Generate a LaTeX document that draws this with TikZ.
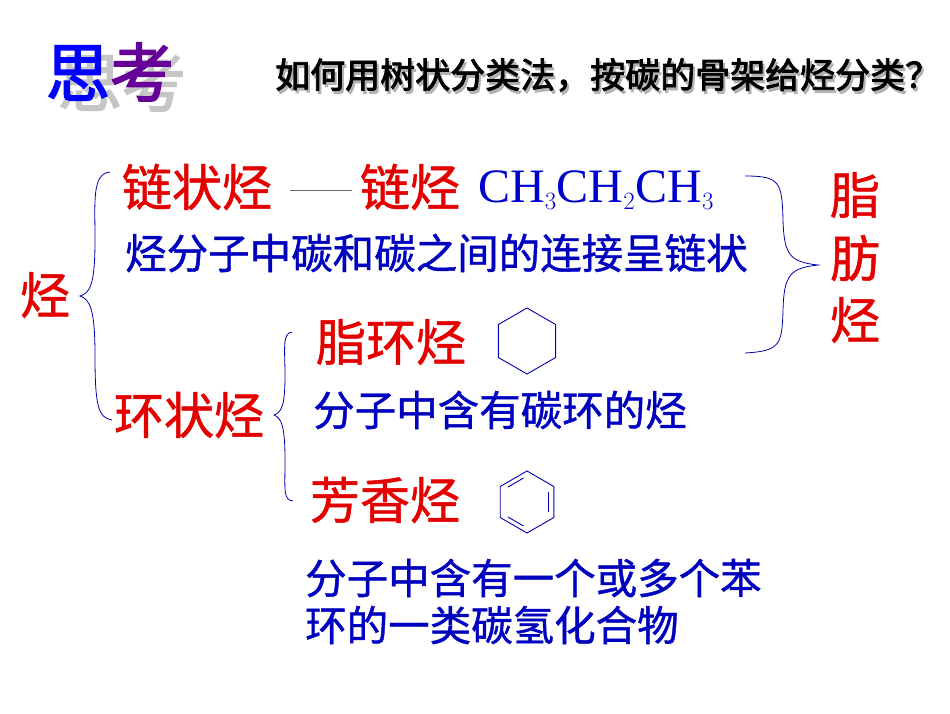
\documentclass[tikz,border=0pt]{standalone}
\usepackage{fontspec}
\usetikzlibrary{calc}
\setmainfont{Liberation Serif}
\newfontfamily\cjk{Noto Sans CJK SC}[FakeBold=1]
\newfontfamily\cjkb{Noto Sans CJK SC}[FakeBold=2.5]
\begin{document}
\begin{tikzpicture}[x=1pt,y=-1pt,
 red/.style={text=red!90!black,font=\cjk\fontsize{50}{54}\selectfont,inner sep=0},
 blu/.style={text=blue!75!black,font=\cjk\fontsize{41.5}{46}\selectfont,inner sep=0,anchor=west},
 br/.style={draw=blue!70!black,line width=0.8pt},
 hex/.style={draw=blue!70!black,line width=0.9pt}]
\useasboundingbox (0,0) rectangle (950,713);
\fill[white] (0,0) rectangle (950,713);
% title
\node[text=gray!45,font=\cjkb\fontsize{64}{68}\selectfont,inner sep=0] (sks) at (122,82) {思考};
\node[font=\cjkb\fontsize{64}{68}\selectfont,inner sep=0] (sk) at (110,72) {\textcolor{blue}{思}\textcolor{violet!80!blue}{考}};
\node[text=gray!60,font=\cjkb\fontsize{35}{38}\selectfont,inner sep=0,anchor=west] (tts) at (277,78) {如何用树状分类法，按碳的骨架给烃分类？};
\node[text=black,font=\cjkb\fontsize{35}{38}\selectfont,inner sep=0,anchor=west] (tt) at (275,75) {如何用树状分类法，按碳的骨架给烃分类？};
% nodes
\node[red] (lz) at (197,187) {链状烃};
\node[red] (lt) at (410,187) {链烃};
\node[inner sep=0,anchor=west,text=blue!80!black,font=\fontsize{48}{50}\selectfont] (ch) at (478,190) {CH$_3$CH$_2$CH$_3$};
\node[blu] (d1) at (125,253) {烃分子中碳和碳之间的连接呈链状};
\node[red] (t) at (45,295) {烃};
\node[red] (z1) at (855,195) {脂};
\node[red] (z2) at (855,258) {肪};
\node[red] (z3) at (855,320) {烃};
\node[red] (zh) at (391,342) {脂环烃};
\node[red] (hz) at (189,415) {环状烃};
\node[blu] (d2) at (313,410) {分子中含有碳环的烃};
\node[red] (fx) at (385,500) {芳香烃};
\node[blu] (d3) at (305,578) {分子中含有一个或多个苯};
\node[blu] (d4) at (305,625) {环的一类碳氢化合物};
% connector line
\coordinate (a) at (290,190);
\coordinate (b) at (352,190);
\draw[draw=black!60,line width=0.6pt] (a) -- (b);
% braces
\draw[br] (110,172) .. controls (92,174) and (95,200) .. (95,240) .. controls (95,285) and (90,293) .. (80,296)
 .. controls (90,299) and (95,310) .. (95,355) .. controls (95,405) and (98,418) .. (112,420);
\draw[br] (745,176) .. controls (780,176) and (782,182) .. (783,220) .. controls (784,255) and (790,262) .. (818,265)
 .. controls (790,268) and (784,275) .. (783,310) .. controls (782,345) and (780,351) .. (745,353);
\draw[br] (292,332) .. controls (282,333) and (285,350) .. (285,375) .. controls (285,405) and (282,412) .. (274,415)
 .. controls (282,418) and (285,428) .. (285,460) .. controls (285,490) and (283,500) .. (293,501);
% hexagons
\coordinate (h1) at (527,341);
\coordinate (h2) at (527,502);
\draw[hex] ($(h1)+(0,-33)$) -- ($(h1)+(28.6,-16.5)$) -- ($(h1)+(28.6,16.5)$) -- ($(h1)+(0,33)$) -- ($(h1)+(-28.6,16.5)$) -- ($(h1)+(-28.6,-16.5)$) -- cycle;
\draw[hex] ($(h2)+(0,-31)$) -- ($(h2)+(26.8,-15.5)$) -- ($(h2)+(26.8,15.5)$) -- ($(h2)+(0,31)$) -- ($(h2)+(-26.8,15.5)$) -- ($(h2)+(-26.8,-15.5)$) -- cycle;
\draw[hex] ($(h2)+(-3.5,-24)$) -- ($(h2)+(-19,-15)$);
\draw[hex] ($(h2)+(21,-10)$) -- ($(h2)+(21,10)$);
\draw[hex] ($(h2)+(-3.5,24)$) -- ($(h2)+(-19,15)$);
\end{tikzpicture}
\end{document}
